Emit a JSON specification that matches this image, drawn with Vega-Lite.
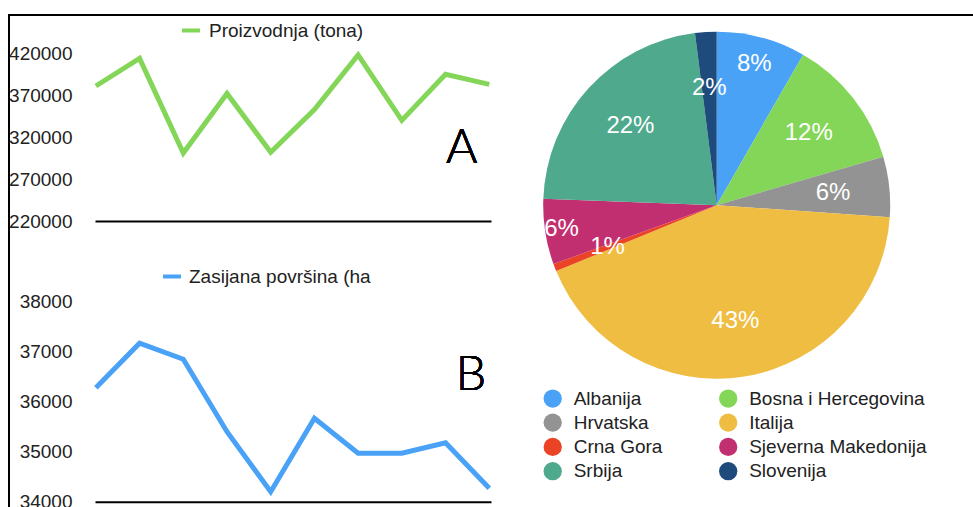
{
  "$schema": "https://vega.github.io/schema/vega-lite/v6.json",
  "width": 967,
  "height": 495,
  "autosize": {"type": "none"},
  "padding": {"left": 9, "top": 15, "right": -3, "bottom": -3},
  "background": "white",
  "config": {
    "font": "Liberation Sans",
    "view": {"stroke": "black", "strokeWidth": 2, "fill": "white"},
    "axis": {"labelFont": "Liberation Sans", "labelFontSize": 19, "labelColor": "#222222", "grid": false, "ticks": false, "tickSize": 0, "title": null},
    "legend": {"labelFont": "Liberation Sans", "labelFontSize": 19, "labelColor": "#222222", "padding": 0, "offset": 0, "titlePadding": 0, "labelLimit": 400}
  },
  "datasets": {
    "proizvodnja": [
      {"t": 1, "tona": 381000}, {"t": 2, "tona": 414000}, {"t": 3, "tona": 301000},
      {"t": 4, "tona": 372000}, {"t": 5, "tona": 302000}, {"t": 6, "tona": 353000},
      {"t": 7, "tona": 418000}, {"t": 8, "tona": 340000}, {"t": 9, "tona": 395000},
      {"t": 10, "tona": 383000}
    ],
    "povrsina": [
      {"t": 1, "ha": 36280}, {"t": 2, "ha": 37170}, {"t": 3, "ha": 36850},
      {"t": 4, "ha": 35400}, {"t": 5, "ha": 34200}, {"t": 6, "ha": 35670},
      {"t": 7, "ha": 34970}, {"t": 8, "ha": 34970}, {"t": 9, "ha": 35180},
      {"t": 10, "ha": 34270}
    ],
    "udio": [
      {"rb": 1, "zemlja": "Albanija", "udio": 0.083},
      {"rb": 2, "zemlja": "Bosna i Hercegovina", "udio": 0.122},
      {"rb": 3, "zemlja": "Hrvatska", "udio": 0.056},
      {"rb": 4, "zemlja": "Italija", "udio": 0.427},
      {"rb": 5, "zemlja": "Crna Gora", "udio": 0.007},
      {"rb": 6, "zemlja": "Sjeverna Makedonija", "udio": 0.061},
      {"rb": 7, "zemlja": "Srbija", "udio": 0.224},
      {"rb": 8, "zemlja": "Slovenija", "udio": 0.020}
    ]
  },
  "layer": [
    {
      "data": {"name": "proizvodnja"},
      "layer": [
        {
          "mark": {"type": "line", "strokeWidth": 5, "strokeJoin": "miter"},
          "encoding": {
            "x": {"field": "t", "type": "quantitative",
              "scale": {"domain": [0.98, 10.04], "range": [86, 482], "nice": false, "zero": false},
              "axis": {"orient": "bottom", "offset": -289, "labels": false, "ticks": false, "domain": true, "domainColor": "black", "domainWidth": 2, "title": null, "grid": false}},
            "y": {"field": "tona", "type": "quantitative",
              "scale": {"domain": [220000, 420000], "range": [206, 38.3], "nice": false, "zero": false},
              "axis": {"orient": "left", "offset": -63, "values": [220000, 270000, 320000, 370000, 420000], "domain": false, "ticks": false, "labelPadding": 0, "format": "d", "title": null, "grid": false}},
            "color": {"datum": "Proizvodnja (tona)", "type": "nominal",
              "scale": {"range": ["#83D657"]},
              "legend": {"orient": "none", "legendX": 171, "legendY": 4.5, "symbolType": "stroke", "symbolSize": 324, "symbolStrokeWidth": 4, "labelOffset": 7, "title": null}}
          }
        },
        {
          "mark": {"type": "text", "text": "A", "font": "Lato", "fontWeight": 300, "fontSize": 48, "baseline": "alphabetic", "align": "center", "color": "black"},
          "encoding": {
            "x": {"datum": 9.37, "type": "quantitative"},
            "y": {"datum": 288800, "type": "quantitative"}
          }
        }
      ]
    },
    {
      "data": {"name": "povrsina"},
      "layer": [
        {
          "mark": {"type": "line", "strokeWidth": 5, "strokeJoin": "miter"},
          "encoding": {
            "x": {"field": "t", "type": "quantitative",
              "scale": {"domain": [0.98, 10.04], "range": [86, 482], "nice": false, "zero": false},
              "axis": {"orient": "bottom", "offset": -8.3, "labels": false, "ticks": false, "domain": true, "domainColor": "black", "domainWidth": 2, "title": null, "grid": false}},
            "y": {"field": "ha", "type": "quantitative",
              "scale": {"domain": [34000, 38000], "range": [486.7, 286.7], "nice": false, "zero": false},
              "axis": {"orient": "left", "offset": -63, "values": [34000, 35000, 36000, 37000, 38000], "domain": false, "ticks": false, "labelPadding": 0, "format": "d", "title": null, "grid": false}},
            "color": {"datum": "Zasijana površina (ha", "type": "nominal",
              "scale": {"range": ["#4AA2F7"]},
              "legend": {"orient": "none", "legendX": 152, "legendY": 250.5, "symbolType": "stroke", "symbolSize": 324, "symbolStrokeWidth": 4, "labelOffset": 6, "title": null}}
          }
        },
        {
          "mark": {"type": "text", "text": "B", "font": "Lato", "fontWeight": 300, "fontSize": 48, "baseline": "alphabetic", "align": "center", "color": "black"},
          "encoding": {
            "x": {"datum": 9.58, "type": "quantitative"},
            "y": {"datum": 36234, "type": "quantitative"}
          }
        }
      ]
    },
    {
      "data": {"name": "udio"},
      "encoding": {
        "theta": {"field": "udio", "type": "quantitative", "stack": true},
        "order": {"field": "rb", "type": "quantitative"},
        "x": {"datum": 0, "type": "quantitative", "scale": {"domain": [0, 1], "range": [707.7, 708.7]}, "axis": null},
        "y": {"datum": 0, "type": "quantitative", "scale": {"domain": [0, 1], "range": [190.2, 191.2]}, "axis": null}
      },
      "layer": [
        {
          "mark": {"type": "arc", "outerRadius": 173.5},
          "encoding": {
            "color": {"field": "zemlja", "type": "nominal",
              "scale": {"domain": ["Albanija", "Bosna i Hercegovina", "Hrvatska", "Italija", "Crna Gora", "Sjeverna Makedonija", "Srbija", "Slovenija"],
                        "range": ["#4AA2F7", "#83D657", "#939393", "#EEBD41", "#EB4326", "#C22F70", "#4EA98D", "#1F4B7C"]},
              "legend": {"orient": "none", "legendX": 534.2, "legendY": 373.8, "columns": 2, "direction": "horizontal", "symbolType": "circle", "symbolSize": 335, "symbolStrokeWidth": 0, "symbolOpacity": 1, "labelOffset": 11.5, "rowPadding": 4.3, "columnPadding": 55.5, "title": null}}
          }
        },
        {
          "mark": {"type": "text", "radius": 117, "fontSize": 24, "color": "white"},
          "encoding": {
            "text": {"condition": {"test": "datum.zemlja !== 'Albanija' && datum.zemlja !== 'Sjeverna Makedonija'", "field": "udio", "type": "quantitative", "format": ".0%"}, "value": ""}
          }
        },
        {
          "mark": {"type": "text", "radius": 146, "fontSize": 24, "color": "white"},
          "encoding": {
            "text": {"condition": {"test": "datum.zemlja === 'Albanija'", "field": "udio", "type": "quantitative", "format": ".0%"}, "value": ""}
          }
        },
        {
          "mark": {"type": "text", "radius": 157, "fontSize": 24, "color": "white"},
          "encoding": {
            "text": {"condition": {"test": "datum.zemlja === 'Sjeverna Makedonija'", "field": "udio", "type": "quantitative", "format": ".0%"}, "value": ""}
          }
        }
      ]
    }
  ],
  "resolve": {
    "scale": {"x": "independent", "y": "independent", "color": "independent", "theta": "independent"},
    "axis": {"x": "independent", "y": "independent"},
    "legend": {"color": "independent"}
  }
}
